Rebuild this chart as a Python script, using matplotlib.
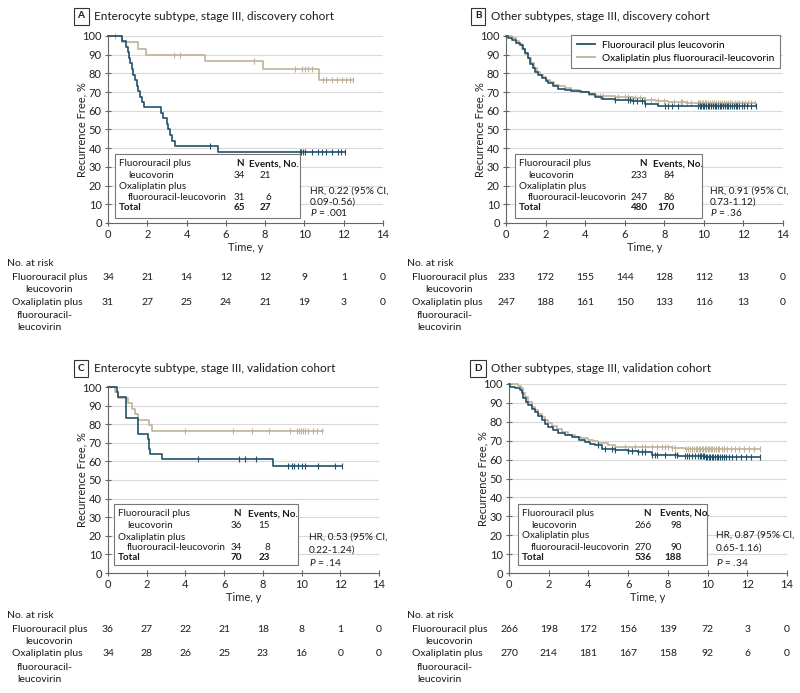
import numpy as np
import matplotlib
matplotlib.use('Agg')
import matplotlib.pyplot as plt
from matplotlib.patches import Rectangle
from matplotlib.lines import Line2D

plt.rcParams['font.family'] = ['Lato', 'DejaVu Sans']
plt.rcParams['mathtext.fontset'] = 'custom'
plt.rcParams['mathtext.it'] = 'Lato:italic'
plt.rcParams['mathtext.rm'] = 'Lato'

BLUE = '#22506a'
TAN = '#bfb399'
GRID = '#d9d9d9'
AX = '#666666'

# ---------------- data ----------------
years = [0, 2, 4, 6, 8, 10, 12, 14]
yticks = [0, 10, 20, 30, 40, 50, 60, 70, 80, 90, 100]

# Panel A
tA_fu = [0, 0.70, 0.90, 1.00, 1.07, 1.14, 1.21, 1.27, 1.37, 1.48, 1.54, 1.61, 1.71, 1.85,
         2.70, 2.82, 2.99, 3.07, 3.16, 3.24, 3.41, 5.62]
sA_fu = [100, 97.1, 94.1, 91.2, 88.2, 85.3, 82.4, 79.4, 76.5, 73.5, 70.6, 67.6, 64.7, 61.8,
         58.8, 55.9, 52.9, 50.0, 47.1, 44.1, 41.2, 38.0]
endA_fu = 12.05
cA_fu = [5.19, 9.75, 9.85, 9.95, 10.05, 10.4, 10.7, 10.9, 11.1, 11.4, 11.7, 11.85, 12.05]
tA_ox = [0, 0.70, 1.54, 1.92, 4.94, 7.89, 10.74]
sA_ox = [100, 96.7, 93.3, 90.0, 86.4, 82.6, 76.3]
endA_ox = 12.49
cA_ox = [0.36, 3.36, 3.67, 7.45, 9.52, 9.86, 10.03, 10.2, 10.37, 10.96, 11.08, 11.39,
         11.64, 11.9, 12.1, 12.32, 12.49]
tabA_N = [34, 31, 65]
tabA_E = [21, 6, 27]
hrA = ['HR, 0.22 (95% CI,', '0.09-0.56)', r'$\it{P}$ = .001']
riskA_fu = [34, 21, 14, 12, 12, 9, 1, 0]
riskA_ox = [31, 27, 25, 24, 21, 19, 3, 0]

# Panel B
tB_fu = [0, 0.08, 0.3, 0.5, 0.7, 0.85, 0.96, 1.1, 1.21, 1.35, 1.47, 1.62, 1.8, 2.0, 2.14,
         2.4, 2.64, 3.0, 3.3, 3.8, 4.2, 4.5, 4.84, 5.5, 6.35, 7.0, 7.7, 9.7]
sB_fu = [100, 98.7, 98.0, 96.5, 95.0, 93.0, 91.0, 88.0, 85.0, 83.0, 81.0, 79.0, 77.5, 76.0,
         74.6, 73.0, 71.6, 71.0, 70.7, 70.0, 69.0, 67.6, 66.4, 66.0, 65.5, 63.7, 62.8, 62.3]
endB_fu = 12.65
cB_fu = [5.51, 6.18, 6.27, 6.43, 6.60, 6.86, 7.02, 8.03, 8.20, 8.37, 8.71, 9.72, 9.80, 9.88,
         9.95, 10.02, 10.10, 10.20, 10.28, 10.35, 10.45, 10.55, 10.62, 10.70, 10.80, 10.88,
         10.95, 11.05, 11.15, 11.22, 11.30, 11.40, 11.50, 11.60, 11.70, 11.80, 11.92, 12.05,
         12.20, 12.40, 12.65]
tB_ox = [0, 0.3, 0.5, 0.65, 0.8, 0.95, 1.1, 1.25, 1.4, 1.55, 1.7, 1.85, 2.0, 2.2, 2.45, 2.7,
         3.0, 3.3, 3.7, 4.2, 4.6, 5.0, 5.5, 6.4, 7.0, 7.6, 8.2, 9.1]
sB_ox = [100, 99.0, 97.5, 95.5, 93.0, 90.5, 88.0, 85.5, 83.0, 81.0, 79.3, 78.0, 76.5, 75.5,
         74.0, 73.0, 72.0, 70.9, 70.0, 68.7, 68.0, 67.8, 67.4, 67.0, 66.0, 65.5, 64.8, 64.2]
endB_ox = 12.6
cB_ox = [4.74, 4.90, 5.66, 6.00, 6.17, 6.50, 6.75, 7.00, 7.34, 7.68, 8.00, 8.50, 8.84, 8.92,
         9.17, 9.34, 9.68, 9.75, 9.82, 9.90, 9.98, 10.05, 10.12, 10.20, 10.30, 10.40, 10.50,
         10.60, 10.70, 10.80, 10.90, 11.00, 11.10, 11.20, 11.30, 11.42, 11.55, 11.68, 11.80,
         11.95, 12.10, 12.25, 12.40, 12.60]
tabB_N = [233, 247, 480]
tabB_E = [84, 86, 170]
hrB = ['HR, 0.91 (95% CI,', '0.73-1.12)', r'$\it{P}$ = .36']
riskB_fu = [233, 172, 155, 144, 128, 112, 13, 0]
riskB_ox = [247, 188, 161, 150, 133, 116, 13, 0]

# Panel C
tC_fu = [0, 0.45, 0.52, 0.95, 1.57, 2.05, 2.12, 2.17, 2.81, 8.50]
sC_fu = [100, 97.2, 94.4, 83.3, 75.0, 72.2, 66.7, 63.9, 61.1, 57.6]
endC_fu = 12.07
cC_fu = [4.67, 6.77, 7.08, 7.63, 9.31, 9.48, 9.62, 9.79, 10.03, 10.17, 10.86, 11.72, 12.07]
tC_ox = [0, 0.38, 0.52, 1.05, 1.22, 1.39, 1.56, 2.12, 2.29]
sC_ox = [100, 97.1, 94.1, 91.2, 88.2, 85.3, 82.4, 79.4, 76.5]
endC_ox = 11.1
cC_ox = [4.0, 6.47, 7.42, 8.33, 9.4, 9.75, 9.87, 9.97, 10.07, 10.18, 10.31, 10.6, 10.78, 11.04]
tabC_N = [36, 34, 70]
tabC_E = [15, 8, 23]
hrC = ['HR, 0.53 (95% CI,', '0.22-1.24)', r'$\it{P}$ = .14']
riskC_fu = [36, 27, 22, 21, 18, 8, 1, 0]
riskC_ox = [34, 28, 26, 25, 23, 16, 0, 0]

# Panel D
tD_fu = [0, 0.05, 0.3, 0.55, 0.65, 0.72, 0.85, 0.97, 1.15, 1.31, 1.45, 1.64, 1.8, 1.98, 2.2,
         2.48, 2.8, 3.15, 3.5, 3.82, 4.1, 4.33, 4.66, 5.33, 6.0, 6.51, 7.18, 8.53, 9.87]
sD_fu = [100, 98.5, 97.7, 96.8, 95.0, 92.4, 90.5, 88.8, 87.0, 85.3, 83.0, 80.8, 79.0, 77.3,
         75.8, 74.0, 73.0, 72.0, 70.6, 69.3, 68.5, 67.6, 65.8, 64.9, 64.5, 64.0, 62.6, 61.9, 61.4]
endD_fu = 12.65
cD_fu = [4.50, 4.83, 5.17, 5.34, 6.01, 6.18, 6.51, 6.68, 6.85, 7.18, 7.35, 7.43, 7.85, 8.36,
         8.44, 8.86, 8.95, 9.05, 9.20, 9.35, 9.50, 9.60, 9.68, 9.75, 9.82, 9.90, 9.97, 10.05,
         10.12, 10.20, 10.28, 10.35, 10.45, 10.55, 10.65, 10.75, 10.85, 10.95, 11.10, 11.25,
         11.45, 11.70, 11.95, 12.20, 12.65]
tD_ox = [0, 0.47, 0.6, 0.7, 0.8, 0.95, 1.14, 1.3, 1.45, 1.64, 1.8, 1.95, 2.15, 2.4, 2.65, 2.95,
         3.32, 3.65, 3.99, 4.25, 4.5, 5.0, 5.33, 8.2, 8.87]
sD_ox = [100, 99.0, 97.7, 95.5, 93.0, 90.5, 87.7, 86.0, 84.2, 82.4, 80.8, 79.5, 78.0, 76.2,
         74.5, 73.2, 72.0, 71.2, 70.5, 69.6, 68.8, 67.6, 66.7, 66.2, 65.5]
endD_ox = 12.65
cD_ox = [5.84, 6.34, 6.68, 6.85, 7.18, 7.43, 7.68, 7.85, 8.02, 8.20, 8.36, 8.90, 9.00, 9.10,
         9.20, 9.30, 9.40, 9.48, 9.55, 9.62, 9.70, 9.78, 9.85, 9.92, 10.00, 10.08, 10.15, 10.22,
         10.30, 10.40, 10.50, 10.60, 10.72, 10.85, 11.00, 11.20, 11.40, 11.60, 11.85, 12.10,
         12.35, 12.65]
tabD_N = [266, 270, 536]
tabD_E = [98, 90, 188]
hrD = ['HR, 0.87 (95% CI,', '0.65-1.16)', r'$\it{P}$ = .34']
riskD_fu = [266, 198, 172, 156, 139, 72, 3, 0]
riskD_ox = [270, 214, 181, 167, 158, 92, 6, 0]

titles = ['Enterocyte subtype, stage III, discovery cohort',
          'Other subtypes, stage III, discovery cohort',
          'Enterocyte subtype, stage III, validation cohort',
          'Other subtypes, stage III, validation cohort']
letters = ['A', 'B', 'C', 'D']
grp_fu = 'Fluorouracil plus leucovorin'
grp_ox = 'Oxaliplatin plus fluorouracil-leucovorin'

# ---------------- figure ----------------
W, H = 800, 693
fig = plt.figure(figsize=(W / 100, H / 100), dpi=100)
FS = 7.1      # inner table / HR text
FR = 7.5      # risk table
FT = 8.0      # tick labels / axis labels
FTI = 8.5     # titles


def fx(x):
    return x / W


def fy(y):
    return 1 - y / H


def txt(x, y, s, **kw):
    kw.setdefault('va', 'center')
    kw.setdefault('fontsize', FS)
    kw.setdefault('color', '#1a1a1a')
    return fig.text(fx(x), fy(y), s, **kw)


def km(ax, t, s, end, cens, color):
    t = np.asarray(t, float)
    s = np.asarray(s, float)
    ax.step(np.append(t, end), np.append(s, s[-1]), where='post', color=color, lw=1.2,
            clip_on=False, zorder=3)
    c = np.asarray(cens, float)
    idx = np.searchsorted(t, c, side='right') - 1
    ax.plot(c, s[idx], ls='none', marker='|', ms=5, mew=0.8, color=color, clip_on=False,
            zorder=3)


def make_panel(box, letter, title, title_y, title_x, curves, tab, tabN, tabE, hr, risk_fu,
               risk_ox, risk_y0, risk_x0, legend=False):
    l, r, t, b = box
    ax = fig.add_axes([fx(l), fy(b), fx(r) - fx(l), fy(t) - fy(b)])
    ax.set_xlim(0, 14)
    ax.set_ylim(0, 100)
    ax.set_xticks(years)
    ax.set_yticks(yticks)
    for y in yticks[1:]:
        ax.axhline(y, color=GRID, lw=0.8, zorder=0)
    for sp in ['top', 'right']:
        ax.spines[sp].set_visible(False)
    for sp in ['left', 'bottom']:
        ax.spines[sp].set_color(AX)
        ax.spines[sp].set_linewidth(0.8)
    ax.tick_params(direction='inout', length=5, width=0.8, color=AX, labelsize=FT,
                   labelcolor='#222222', pad=2)
    ax.set_xlabel('Time, y', fontsize=FT, labelpad=1, color='#222222')
    fig.text(fx(l - 26), fy((t + b) / 2), 'Recurrence Free, %', rotation=90, ha='center',
             va='center', fontsize=FT, color='#222222')
    for (tt, ss, ee, cc, col) in curves:
        km(ax, tt, ss, ee, cc, col)
    # title
    txt(title_x, title_y, letter, fontsize=7.2, fontweight='bold', ha='center',
        bbox=dict(boxstyle='square,pad=0.4', fc='white', ec='#333333', lw=0.8))
    txt(title_x + 13, title_y, title, fontsize=FTI, ha='left')
    # inner table
    bx0, bx1, by0, by1, nx, ex, rows, hx, hrows = tab
    fig.add_artist(Rectangle((fx(bx0), fy(by1)), fx(bx1) - fx(bx0), fy(by0) - fy(by1),
                             transform=fig.transFigure, fc='white', ec='#777777', lw=0.8,
                             zorder=5))
    tx = bx0 + 4
    txt(tx, rows[0], 'Fluorouracil plus', zorder=6)
    txt(tx + 9, rows[1], 'leucovorin', zorder=6)
    txt(tx, rows[2], 'Oxaliplatin plus', zorder=6)
    txt(tx + 9, rows[3], 'fluorouracil-leucovorin', zorder=6)
    txt(tx, rows[4], 'Total', fontweight='bold', zorder=6)
    txt(nx - 5, rows[0], 'N', fontweight='bold', ha='center', zorder=6)
    txt(ex + 3, rows[0], 'Events, No.', fontweight='bold', ha='center', zorder=6)
    txt(nx, rows[1], str(tabN[0]), ha='right', zorder=6)
    txt(nx, rows[3], str(tabN[1]), ha='right', zorder=6)
    txt(nx, rows[4], str(tabN[2]), ha='right', fontweight='bold', zorder=6)
    txt(ex, rows[1], str(tabE[0]), ha='right', zorder=6)
    txt(ex, rows[3], str(tabE[1]), ha='right', zorder=6)
    txt(ex, rows[4], str(tabE[2]), ha='right', fontweight='bold', zorder=6)
    for line, yy in zip(hr, hrows):
        txt(hx, yy, line, ha='left', fontsize=7.3)
    # risk table
    txt(risk_x0, risk_y0, 'No. at risk', fontsize=FR)
    txt(risk_x0 + 5, risk_y0 + 14, 'Fluorouracil plus', fontsize=FR)
    txt(risk_x0 + 18, risk_y0 + 27, 'leucovorin', fontsize=FR)
    txt(risk_x0 + 5, risk_y0 + 39, 'Oxaliplatin plus', fontsize=FR)
    txt(risk_x0 + 10, risk_y0 + 52, 'fluorouracil-', fontsize=FR)
    txt(risk_x0 + 10, risk_y0 + 65, 'leucovirin', fontsize=FR)
    for yr, a, o in zip(years, risk_fu, risk_ox):
        xp = l + (r - l) * yr / 14
        txt(xp, risk_y0 + 14, str(a), ha='center', fontsize=FR)
        txt(xp, risk_y0 + 39, str(o), ha='center', fontsize=FR)
    if legend:
        h = [Line2D([], [], color=BLUE, lw=1.3), Line2D([], [], color=TAN, lw=1.3)]
        leg = ax.legend(h, [grp_fu, grp_ox], loc='upper right',
                        bbox_to_anchor=(fx(780), fy(35)), bbox_transform=fig.transFigure,
                        borderaxespad=0, fancybox=False, edgecolor='#777777',
                        fontsize=7.3, handlelength=1.8, labelspacing=0.4,
                        borderpad=0.55, handletextpad=0.7, framealpha=1)
        leg.get_frame().set_linewidth(0.8)
    return ax


make_panel((108, 383, 36, 223), letters[0], titles[0], 16, 81,
           [(tA_ox, sA_ox, endA_ox, cA_ox, TAN), (tA_fu, sA_fu, endA_fu, cA_fu, BLUE)],
           (115, 300, 154, 218, 245, 271, [164, 175, 187, 198, 208], 310, [191, 202, 213]),
           tabA_N, tabA_E, hrA, riskA_fu, riskA_ox, 263, 7)

make_panel((506, 783, 36, 223), letters[1], titles[1], 16, 478,
           [(tB_ox, sB_ox, endB_ox, cB_ox, TAN), (tB_fu, sB_fu, endB_fu, cB_fu, BLUE)],
           (515, 702, 154, 218, 648, 675, [164, 175, 187, 198, 208], 710, [191, 202, 213]),
           tabB_N, tabB_E, hrB, riskB_fu, riskB_ox, 263, 407, legend=True)

make_panel((108, 379, 387, 573), letters[2], titles[2], 368, 81,
           [(tC_ox, sC_ox, endC_ox, cC_ox, TAN), (tC_fu, sC_fu, endC_fu, cC_fu, BLUE)],
           (114, 298, 504, 565, 242, 270, [514, 526, 537, 548, 558], 309, [537, 550, 563]),
           tabC_N, tabC_E, hrC, riskC_fu, riskC_ox, 615, 7)

make_panel((509, 787, 384, 573), letters[3], titles[3], 368, 478,
           [(tD_ox, sD_ox, endD_ox, cD_ox, TAN), (tD_fu, sD_fu, endD_fu, cD_fu, BLUE)],
           (518, 707, 504, 565, 652, 682, [513, 525, 536, 547, 558], 716, [535, 548, 562]),
           tabD_N, tabD_E, hrD, riskD_fu, riskD_ox, 615, 407)

fig.savefig('out.png', dpi=100, facecolor='white')
